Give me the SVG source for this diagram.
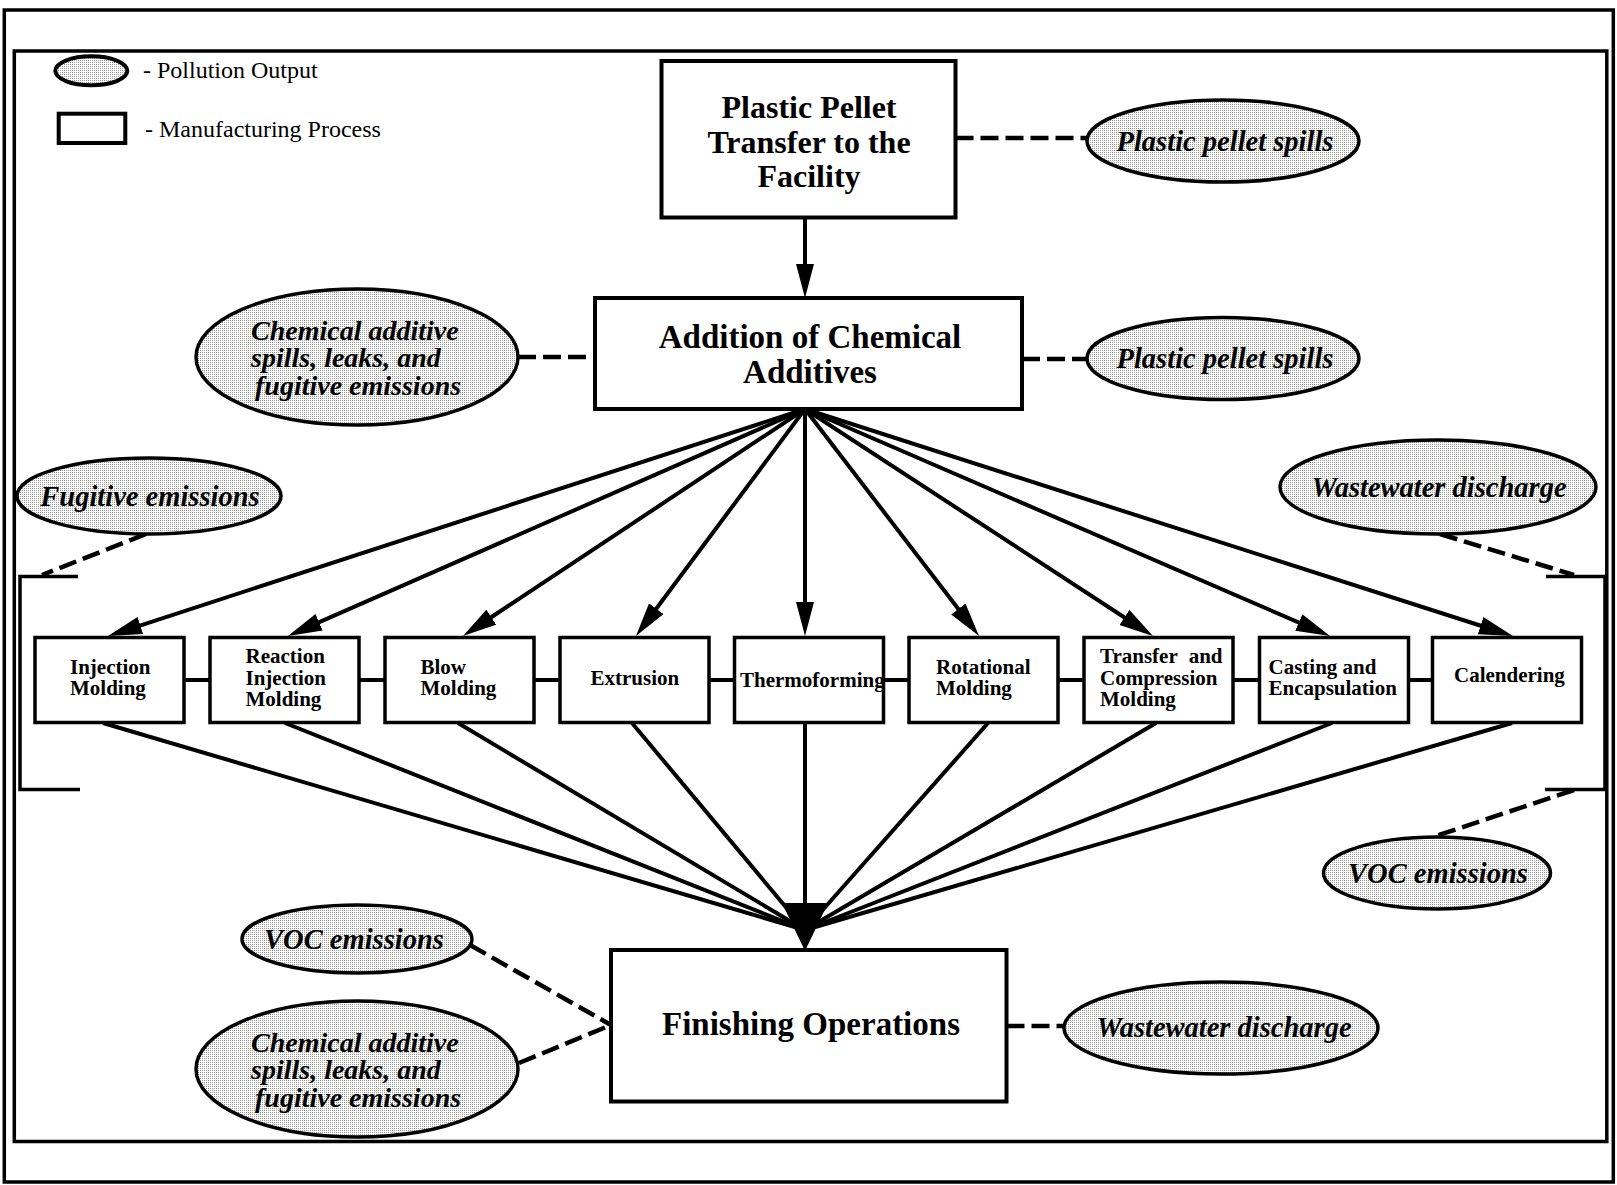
<svg xmlns="http://www.w3.org/2000/svg" width="1617" height="1185" viewBox="0 0 1617 1185">
<style>
.frame{fill:none;stroke:#000;stroke-width:3.5}
.box{fill:#fff;stroke:#000;stroke-width:4}
.sbox{fill:#fff;stroke:#000;stroke-width:3.5}
.ell{fill:url(#dots);stroke:#000;stroke-width:3.5}
.ln{stroke:#000;stroke-width:4;fill:none}
.arr{stroke:#000;stroke-width:4;fill:none;marker-end:url(#ah)}
.dash{stroke:#000;stroke-width:4.5;stroke-dasharray:18 7;fill:none}
.big{font-family:"Liberation Serif","Times New Roman",serif;font-weight:bold;font-size:33px;text-anchor:middle}
.small{font-family:"Liberation Serif","Times New Roman",serif;font-weight:bold;font-size:21px}
.pol{font-family:"Liberation Serif","Times New Roman",serif;font-weight:bold;font-style:italic;font-size:28.5px}
.pol3{font-family:"Liberation Serif","Times New Roman",serif;font-weight:bold;font-style:italic;font-size:28px}
.mid{text-anchor:middle}
.leg{font-family:"Liberation Serif","Times New Roman",serif;font-size:24px}
</style>
<defs>
<pattern id="dots" width="2" height="2" patternUnits="userSpaceOnUse">
<rect width="2" height="2" fill="#fff"/>
<rect width="1" height="1" fill="#999"/>
</pattern>
<marker id="ah" markerUnits="userSpaceOnUse" markerWidth="36" markerHeight="20" refX="6" refY="9" orient="auto">
<path d="M0,0 L34,9 L0,18 z" fill="#000"/>
</marker>
</defs>
<rect width="1617" height="1185" fill="#fff"/>
<g id="frames">
<rect class="frame" x="4.3" y="10" width="1609" height="1172"/>
<rect class="frame" x="14.3" y="51" width="1592.5" height="1090.5"/>
</g>
<g id="legend">
<ellipse class="ell" cx="91.3" cy="70.8" rx="36" ry="14.5" style="stroke-width:4"/>
<text class="leg" x="143" y="78">- Pollution Output</text>
<rect x="58.7" y="113.7" width="66.6" height="29.3" fill="#fff" stroke="#000" stroke-width="4"/>
<text class="leg" x="145" y="137">- Manufacturing Process</text>
</g>
<g id="brackets">
<path class="ln" d="M78 576.5 H20 V789.5 H80" style="stroke-width:3.5"/>
<path class="ln" d="M1546 576.5 H1605 V789.5 H1545" style="stroke-width:3.5"/>
</g>
<g id="connectors">
<line class="arr" x1="805" y1="217.5" x2="805" y2="270"/>
<line class="arr" x1="805" y1="409" x2="134.6" y2="627.3"/>
<line class="arr" x1="805" y1="409" x2="313.6" y2="624.7"/>
<line class="arr" x1="805" y1="409" x2="486.3" y2="620.5"/>
<line class="arr" x1="805" y1="409" x2="652.7" y2="613.5"/>
<line class="arr" x1="805" y1="409" x2="805" y2="608"/>
<line class="arr" x1="805" y1="409" x2="962" y2="613.8"/>
<line class="arr" x1="805" y1="409" x2="1129.5" y2="620.7"/>
<line class="arr" x1="805" y1="409" x2="1304.3" y2="624.9"/>
<line class="arr" x1="805" y1="409" x2="1486.3" y2="627.5"/>
<line class="ln" x1="103" y1="723" x2="805" y2="930"/>
<line class="ln" x1="285" y1="723" x2="805" y2="930"/>
<line class="ln" x1="458" y1="723" x2="805" y2="930"/>
<line class="ln" x1="632" y1="723" x2="805" y2="930"/>
<line class="ln" x1="805" y1="723" x2="805" y2="930"/>
<line class="ln" x1="988" y1="723" x2="805" y2="930"/>
<line class="ln" x1="1156" y1="723" x2="805" y2="930"/>
<line class="ln" x1="1332" y1="723" x2="805" y2="930"/>
<line class="ln" x1="1512" y1="723" x2="805" y2="930"/>
<path d="M782 903 L828 903 L805 951 z" fill="#000"/>
<line class="ln" x1="184" y1="680" x2="210" y2="680"/>
<line class="ln" x1="359" y1="680" x2="385" y2="680"/>
<line class="ln" x1="534" y1="680" x2="560" y2="680"/>
<line class="ln" x1="709" y1="680" x2="734.5" y2="680"/>
<line class="ln" x1="883.5" y1="680" x2="909" y2="680"/>
<line class="ln" x1="1058" y1="680" x2="1084" y2="680"/>
<line class="ln" x1="1233" y1="680" x2="1259.5" y2="680"/>
<line class="ln" x1="1408.5" y1="680" x2="1432.5" y2="680"/>
<line class="dash" x1="955.5" y1="138" x2="1087" y2="138"/>
<line class="dash" x1="1022" y1="359" x2="1087" y2="359"/>
<line class="dash" x1="518" y1="357" x2="595" y2="357"/>
<line class="dash" x1="146" y1="534" x2="42" y2="575"/>
<line class="dash" x1="1440" y1="534" x2="1574" y2="575"/>
<line class="dash" x1="1574" y1="790" x2="1436" y2="836"/>
<line class="dash" x1="470" y1="945" x2="611" y2="1025"/>
<line class="dash" x1="519" y1="1063" x2="611" y2="1025"/>
<line class="dash" x1="1006.5" y1="1026" x2="1064" y2="1026"/>
</g>
<g id="n-pellet-transfer">
<rect class="box" x="661.5" y="61" width="294" height="156.5"/>
<text class="big" x="809" y="118" style="font-size:32px">Plastic Pellet</text>
<text class="big" x="809" y="152.5" style="font-size:32px">Transfer to the</text>
<text class="big" x="809" y="187" style="font-size:32px">Facility</text>
</g>
<g id="n-additives">
<rect class="box" x="595" y="298" width="427" height="111"/>
<text class="big" x="810" y="347.5">Addition of Chemical</text>
<text class="big" x="810" y="382.5">Additives</text>
</g>
<g id="n-finishing">
<rect class="box" x="611" y="950" width="395.5" height="151.5"/>
<text class="big" x="811" y="1035">Finishing Operations</text>
</g>
<g id="n-injection">
<rect class="sbox" x="35" y="637.5" width="149" height="85"/>
<text class="small" x="70" y="674">Injection</text>
<text class="small" x="70" y="695">Molding</text>
</g>
<g id="n-reaction">
<rect class="sbox" x="210" y="637.5" width="149" height="85"/>
<text class="small" x="245.5" y="663">Reaction</text>
<text class="small" x="245.5" y="684.5">Injection</text>
<text class="small" x="245.5" y="706">Molding</text>
</g>
<g id="n-blow">
<rect class="sbox" x="385" y="637.5" width="149" height="85"/>
<text class="small" x="420.5" y="674">Blow</text>
<text class="small" x="420.5" y="695">Molding</text>
</g>
<g id="n-extrusion">
<rect class="sbox" x="560" y="637.5" width="149" height="85"/>
<text class="small" x="590.5" y="685">Extrusion</text>
</g>
<g id="n-thermoforming">
<rect class="sbox" x="734.5" y="637.5" width="149" height="85"/>
<text class="small" x="740" y="686.5">Thermoforming</text>
</g>
<g id="n-rotational">
<rect class="sbox" x="909" y="637.5" width="149" height="85"/>
<text class="small" x="936" y="674">Rotational</text>
<text class="small" x="936" y="695">Molding</text>
</g>
<g id="n-transfer">
<rect class="sbox" x="1084" y="637.5" width="149" height="85"/>
<text class="small" x="1100" y="663" word-spacing="6">Transfer and</text>
<text class="small" x="1100" y="684.5">Compression</text>
<text class="small" x="1100" y="706">Molding</text>
</g>
<g id="n-casting">
<rect class="sbox" x="1259.5" y="637.5" width="149" height="85"/>
<text class="small" x="1268.5" y="674">Casting and</text>
<text class="small" x="1268.5" y="695">Encapsulation</text>
</g>
<g id="n-calendering">
<rect class="sbox" x="1432.5" y="637.5" width="149" height="85"/>
<text class="small" x="1454" y="682">Calendering</text>
</g>
<g id="p-pellet-spills-1">
<ellipse class="ell" cx="1223" cy="141" rx="136" ry="41"/>
<text class="pol mid" x="1225" y="150.5">Plastic pellet spills</text>
</g>
<g id="p-pellet-spills-2">
<ellipse class="ell" cx="1223" cy="358.5" rx="136" ry="41"/>
<text class="pol mid" x="1225" y="368">Plastic pellet spills</text>
</g>
<g id="p-chemical-1">
<ellipse class="ell" cx="357" cy="357" rx="161" ry="68"/>
<text class="pol3" x="251" y="339.5">Chemical additive</text>
<text class="pol3" x="251" y="367">spills, leaks, and</text>
<text class="pol3" x="255" y="394.5">fugitive emissions</text>
</g>
<g id="p-fugitive">
<ellipse class="ell" cx="149" cy="496" rx="132" ry="38"/>
<text class="pol mid" x="150" y="505.5">Fugitive emissions</text>
</g>
<g id="p-wastewater-1">
<ellipse class="ell" cx="1438" cy="487" rx="158" ry="47"/>
<text class="pol mid" x="1439" y="496.5">Wastewater discharge</text>
</g>
<g id="p-voc-1">
<ellipse class="ell" cx="1437" cy="873" rx="113.5" ry="36"/>
<text class="pol mid" x="1438" y="882.5">VOC emissions</text>
</g>
<g id="p-voc-2">
<ellipse class="ell" cx="357" cy="939" rx="115" ry="34"/>
<text class="pol mid" x="354" y="949">VOC emissions</text>
</g>
<g id="p-chemical-2">
<ellipse class="ell" cx="357" cy="1069" rx="161" ry="68"/>
<text class="pol3" x="251" y="1051.5">Chemical additive</text>
<text class="pol3" x="251" y="1079">spills, leaks, and</text>
<text class="pol3" x="255" y="1106.5">fugitive emissions</text>
</g>
<g id="p-wastewater-2">
<ellipse class="ell" cx="1221" cy="1028" rx="157" ry="46"/>
<text class="pol mid" x="1224" y="1037">Wastewater discharge</text>
</g>
</svg>
